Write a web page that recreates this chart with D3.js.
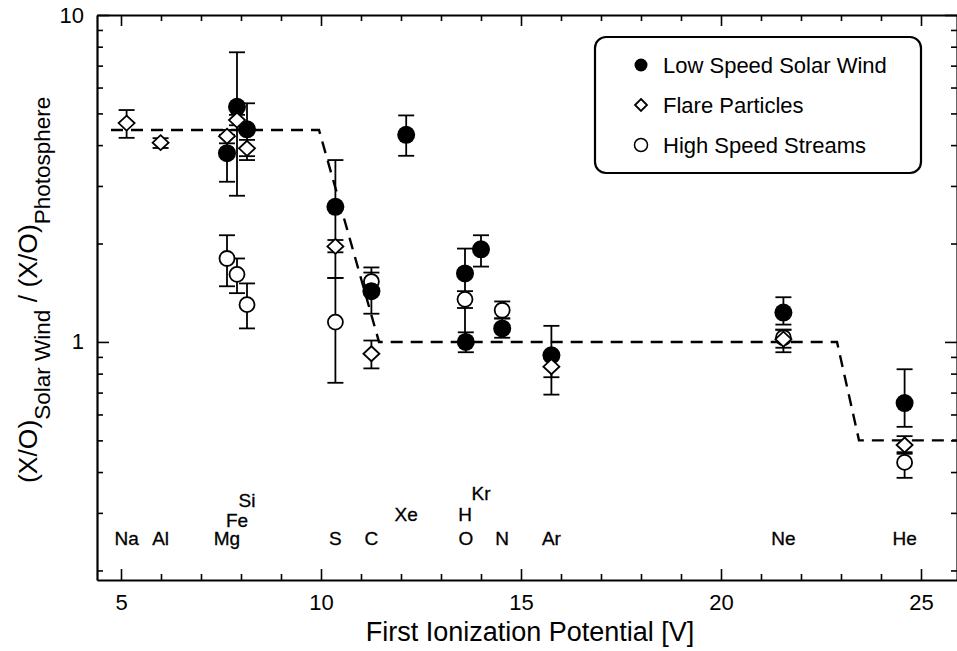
<!DOCTYPE html>
<html>
<head>
<meta charset="utf-8">
<script src="https://cdn.jsdelivr.net/npm/d3@7"></script>
<style>
  body { margin: 0; background: #fff; }
  svg { display: block; font-family: "Liberation Sans", Arial, Helvetica, sans-serif; }
</style>
</head>
<body>
<svg id="chart" width="957" height="651"></svg>
<script>
// elements and their first ionization potential (V)
const elements = ["Na", "Al", "Mg", "Fe", "Si", "S", "C", "Xe", "H", "O", "Kr", "N", "Ar", "Ne", "He"];
const fip = [5.14, 5.99, 7.65, 7.90, 8.15, 10.36, 11.26, 12.13, 13.60, 13.62, 14.00, 14.53, 15.76, 21.56, 24.59];

// low speed solar wind (filled circles)
const lowEl = ["Mg", "Fe", "Si", "S", "C", "Xe", "H", "O", "Kr", "N", "Ar", "Ne", "He"];
const lowVal = [3.78, 5.24, 4.47, 2.59, 1.43, 4.30, 1.62, 1.00, 1.92, 1.10, 0.91, 1.23, 0.65];
const lowLo = [3.09, 2.80, 3.60, 1.57, 1.22, 3.71, 1.00, 0.93, 1.70, 1.03, 0.69, 1.13, 0.55];
const lowHi = [4.30, 7.69, 5.37, 3.60, 1.69, 4.93, 1.93, 1.07, 2.12, 1.18, 1.12, 1.37, 0.825];

// flare particles (diamonds)
const flareEl = ["Na", "Al", "Mg", "Fe", "Si", "S", "C", "Ar", "Ne", "He"];
const flareVal = [4.67, 4.07, 4.26, 4.77, 3.91, 1.96, 0.92, 0.84, 1.02, 0.484];
const flareLo = [4.21, 3.92, 4.05, 4.60, 3.70, 1.88, 0.83, 0.78, 0.93, 0.455];
const flareHi = [5.12, 4.20, 4.45, 4.95, 4.15, 2.05, 1.01, 0.90, 1.09, 0.515];

// high speed streams (open circles)
const hssEl = ["Mg", "Fe", "Si", "S", "C", "H", "N", "Ne", "He"];
const hssVal = [1.80, 1.61, 1.30, 1.15, 1.53, 1.35, 1.25, 1.03, 0.428];
const hssLo = [1.48, 1.41, 1.10, 0.75, 1.42, 1.27, 1.18, 0.96, 0.384];
const hssHi = [2.12, 1.80, 1.51, 1.57, 1.63, 1.43, 1.33, 1.09, 0.46];

// dashed step model
const modelFip = [4.75, 9.95, 11.45, 22.9, 23.45, 26.2];
const modelVal = [4.45, 4.45, 1.0, 1.0, 0.5, 0.5];

const xTicks = d3.range(5, 26);
const yTicks = [0.2, 0.3, 0.4, 0.5, 0.6, 0.7, 0.8, 0.9, 1, 2, 3, 4, 5, 6, 7, 8, 9, 10];

const svg = d3.select("#chart");
const plotLeft = 97, plotRight = 957, plotTop = 15, plotBottom = 580;

const x = d3.scaleLinear().domain([4.4, 25.9]).range([plotLeft, plotRight]);
const y = d3.scaleLog().domain([0.187, 10]).range([plotBottom, plotTop]);

const fipOf = el => fip[elements.indexOf(el)];
const series = (els, v, lo, hi) => els.map((e, i) => ({ el: e, x: fipOf(e), v: v[i], lo: lo[i], hi: hi[i] }));
const low = series(lowEl, lowVal, lowLo, lowHi);
const flare = series(flareEl, flareVal, flareLo, flareHi);
const hss = series(hssEl, hssVal, hssLo, hssHi);

// axes, ticks pointing inward
function styleAxis(g, majorTest, majorLen) {
  g.select(".domain").attr("stroke-width", 2.2);
  g.selectAll(".tick line").attr("stroke-width", 1.6);
  g.selectAll(".tick").filter(majorTest).select("line").each(function () {
    const l = d3.select(this);
    if (l.attr("x2") !== null && +l.attr("x2") !== 0) l.attr("x2", Math.sign(+l.attr("x2")) * majorLen);
    if (l.attr("y2") !== null && +l.attr("y2") !== 0) l.attr("y2", Math.sign(+l.attr("y2")) * majorLen);
  });
  g.selectAll(".tick text").attr("fill", "#000");
}
const isMajorX = d => d % 5 === 0;
const isMajorY = d => d === 1 || d === 10;

svg.append("g").attr("transform", `translate(0,${plotBottom})`)
  .call(d3.axisBottom(x).tickValues(xTicks).tickSize(-6).tickSizeOuter(0).tickPadding(14)
    .tickFormat(d => isMajorX(d) ? d : ""))
  .call(g => styleAxis(g, isMajorX, 11))
  .call(g => g.attr("font-size", 22).attr("font-family", null));

svg.append("g").attr("transform", `translate(0,${plotTop})`)
  .call(d3.axisTop(x).tickValues(xTicks).tickSize(-6).tickSizeOuter(0).tickFormat(""))
  .call(g => styleAxis(g, isMajorX, 11));

svg.append("g").attr("transform", `translate(${plotLeft},0)`)
  .call(d3.axisLeft(y).tickValues(yTicks).tickSize(-6).tickSizeOuter(0).tickPadding(13)
    .tickFormat(d => isMajorY(d) ? d : ""))
  .call(g => styleAxis(g, isMajorY, 12))
  .call(g => g.attr("font-size", 22).attr("font-family", null));

svg.append("g").attr("transform", `translate(${plotRight},0)`)
  .call(d3.axisRight(y).tickValues(yTicks).tickSize(-6).tickSizeOuter(0).tickFormat(""))
  .call(g => styleAxis(g, isMajorY, 12));

// dashed model line
svg.append("path")
  .datum(modelFip.map((f, i) => [f, modelVal[i]]))
  .attr("fill", "none").attr("stroke", "#000").attr("stroke-width", 2.4)
  .attr("stroke-dasharray", "12,8")
  .attr("d", d3.line().x(d => x(d[0])).y(d => y(d[1])));

// error bars
function errBars(data) {
  const g = svg.append("g").attr("stroke", "#000").attr("stroke-width", 1.8);
  g.selectAll("line.v").data(data).join("line").attr("class", "v")
    .attr("x1", d => x(d.x)).attr("x2", d => x(d.x))
    .attr("y1", d => y(d.lo)).attr("y2", d => y(d.hi));
  ["lo", "hi"].forEach(k => {
    g.selectAll("line." + k).data(data).join("line").attr("class", k)
      .attr("x1", d => x(d.x) - 8).attr("x2", d => x(d.x) + 8)
      .attr("y1", d => y(d[k])).attr("y2", d => y(d[k]));
  });
}
errBars(hss);
errBars(low);
errBars(flare);

const diamond = (cx, cy, w, h) => `M${cx},${cy - h}L${cx + w},${cy}L${cx},${cy + h}L${cx - w},${cy}Z`;

svg.append("g").selectAll("circle").data(hss).join("circle")
  .attr("cx", d => x(d.x)).attr("cy", d => y(d.v)).attr("r", 7.5)
  .attr("fill", "#fff").attr("stroke", "#000").attr("stroke-width", 1.8);

svg.append("g").selectAll("circle").data(low).join("circle")
  .attr("cx", d => x(d.x)).attr("cy", d => y(d.v)).attr("r", 9)
  .attr("fill", "#000");

svg.append("g").selectAll("path").data(flare).join("path")
  .attr("d", d => diamond(x(d.x), y(d.v), 8, 7.5))
  .attr("fill", "#fff").attr("stroke", "#000").attr("stroke-width", 1.8);

// element labels
const labelLift = { Fe: 18, Si: 38, Xe: 24, H: 24, Kr: 45 };
svg.append("g").selectAll("text").data(elements).join("text")
  .attr("x", (d, i) => x(fip[i]))
  .attr("y", d => 545 - (labelLift[d] || 0))
  .attr("text-anchor", "middle").attr("font-size", 19)
  .attr("stroke", "#000").attr("stroke-width", 0.3)
  .text(d => d);

// axis titles
svg.append("text").attr("x", 530).attr("y", 641).attr("text-anchor", "middle")
  .attr("font-size", 27).text("First Ionization Potential [V]");

const yt = svg.append("text").attr("transform", "translate(37,483) rotate(-90)")
  .attr("font-size", 26.5);
yt.append("tspan").text("(X/O)");
yt.append("tspan").attr("font-size", 22.5).attr("dy", 13).text("Solar Wind");
yt.append("tspan").attr("dy", -13).text(" / (X/O)");
yt.append("tspan").attr("font-size", 22.5).attr("dy", 13).text("Photosphere");

// legend
const legend = svg.append("g");
legend.append("rect").attr("x", 595).attr("y", 37).attr("width", 326).attr("height", 136)
  .attr("rx", 11).attr("fill", "#fff").attr("stroke", "#000").attr("stroke-width", 2.2);
const legendItems = ["Low Speed Solar Wind", "Flare Particles", "High Speed Streams"];
const legendY = [65, 105, 145];
legendItems.forEach((t, i) => {
  const cy = legendY[i];
  if (i === 0) legend.append("circle").attr("cx", 641).attr("cy", cy).attr("r", 6.5).attr("fill", "#000");
  if (i === 1) legend.append("path").attr("d", diamond(641, cy, 6, 6)).attr("fill", "#fff").attr("stroke", "#000").attr("stroke-width", 1.8);
  if (i === 2) legend.append("circle").attr("cx", 641).attr("cy", cy).attr("r", 6.5).attr("fill", "#fff").attr("stroke", "#000").attr("stroke-width", 1.5);
  legend.append("text").attr("x", 663).attr("y", cy).attr("dy", "0.36em")
    .attr("font-size", 22).text(t);
});
</script>
</body>
</html>
